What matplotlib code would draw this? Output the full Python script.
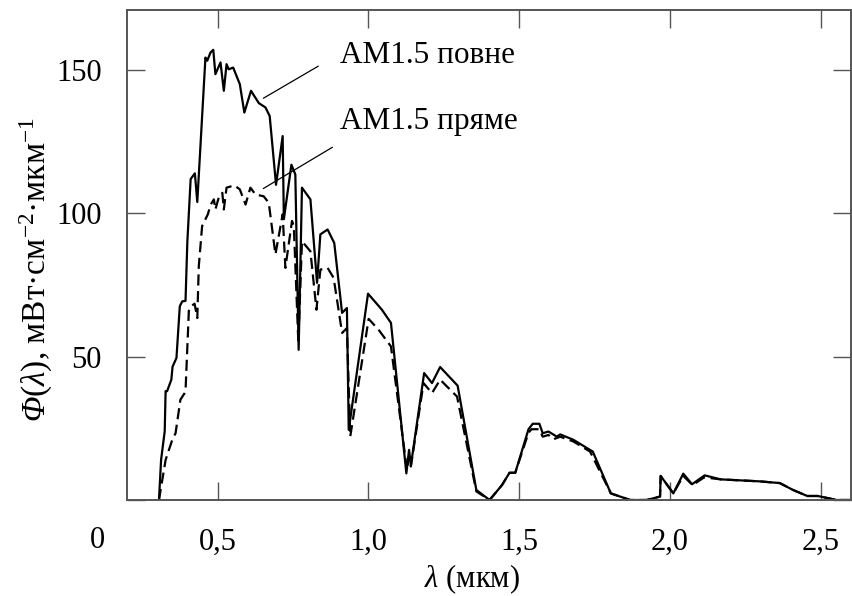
import matplotlib
matplotlib.use("Agg")
import matplotlib.pyplot as plt

plt.rcParams['font.family'] = ['Liberation Serif', 'DejaVu Serif']
plt.rcParams['mathtext.fontset'] = 'custom'
plt.rcParams['mathtext.rm'] = 'Liberation Serif'
plt.rcParams['mathtext.it'] = 'Liberation Serif:italic'
# italic capital Greek is forced upright in \mathit, so borrow \mathsf for it
plt.rcParams['mathtext.sf'] = 'Liberation Serif:italic'

# AM1.5 global (total) spectrum, mW/cm^2/um
wl_total = [0.306, 0.313, 0.325, 0.328, 0.333, 0.347, 0.351, 0.364, 0.375, 0.383,
            0.394, 0.400, 0.411, 0.425, 0.433, 0.460, 0.466, 0.477, 0.486, 0.493,
            0.510, 0.521, 0.530, 0.537, 0.552, 0.574, 0.589, 0.611, 0.637, 0.659,
            0.673, 0.694, 0.716, 0.720, 0.745, 0.758, 0.769, 0.780, 0.808, 0.830,
            0.841, 0.865, 0.887, 0.913, 0.929, 0.935, 0.999, 1.045, 1.075, 1.126,
            1.135, 1.141, 1.185, 1.211, 1.238, 1.296, 1.358, 1.402, 1.443, 1.468,
            1.487, 1.531, 1.545, 1.567, 1.578, 1.597, 1.625, 1.636, 1.680, 1.744,
            1.804, 1.868, 1.923, 1.967, 1.969, 2.011, 2.044, 2.073, 2.115, 2.168,
            2.298, 2.364, 2.408, 2.455, 2.490, 2.552, 2.600]
phi_total = [0, 14, 24, 38, 38, 42, 46.5, 49.6, 67.6, 69.3,
             69.5, 90, 112, 114, 104, 154.4, 153.3, 156.2, 157.1, 148.6,
             152.7, 142.8, 152.1, 150.3, 150.9, 145.1, 135.2, 142.8, 138.5, 137,
             134, 110, 127, 98, 117, 113.6, 52.4, 109, 104.9, 75.8,
             92.7, 94.4, 89.7, 65.3, 67, 24.5, 72, 66.4, 61.8, 9.3,
             17.5, 12, 44.3, 40.8, 46.4, 39.9, 3.5, 0, 5.2, 9.5,
             9.5, 24.7, 26.6, 26.6, 23.3, 23.9, 22.1, 22.9, 21, 16.9,
             2.3, 0, 0, 1.2, 8.4, 2.3, 9.2, 5.5, 8.6, 7.2,
             6.5, 5.9, 3.5, 1.4, 1.4, 0, 0]

# AM1.5 direct spectrum
wl_direct = [0.306, 0.328, 0.350, 0.361, 0.377, 0.391, 0.394, 0.405, 0.411, 0.424,
             0.433, 0.438, 0.449, 0.468, 0.477, 0.488, 0.493, 0.504, 0.516, 0.521,
             0.530, 0.556, 0.574, 0.593, 0.609, 0.626, 0.653, 0.670, 0.692, 0.716,
             0.725, 0.747, 0.753, 0.768, 0.780, 0.808, 0.828, 0.841, 0.865, 0.885,
             0.913, 0.929, 0.940, 1.001, 1.034, 1.075, 1.128, 1.135, 1.141, 1.183,
             1.211, 1.238, 1.294, 1.358, 1.402, 1.443, 1.468, 1.487, 1.531, 1.541,
             1.567, 1.578, 1.597, 1.614, 1.636, 1.680, 1.735, 1.804, 1.868, 1.923,
             1.967, 1.969, 2.011, 2.044, 2.075, 2.113, 2.168, 2.298, 2.364, 2.408,
             2.455, 2.490, 2.552, 2.600]
phi_direct = [0, 14, 21, 23.3, 35, 37.3, 38, 66, 67.5, 68.5,
              63.5, 81.6, 95.6, 99.7, 103, 104.9, 101.4, 105.5, 107.2, 101.4,
              109, 109.8, 108.4, 103.1, 109, 106.6, 106, 103.7, 85.7, 99.7,
              81, 97.4, 95.6, 55, 90.3, 86.8, 66.4, 80.4, 81, 77.5,
              58.3, 60, 22.1, 63.2, 59.4, 53.6, 10.5, 15, 11.7, 40.8,
              37.3, 42, 36.1, 3, 0, 5.2, 9.5, 9.5, 23.5, 24.7,
              24.7, 22.1, 22.7, 21.2, 22.1, 20.4, 16.9, 2.3, 0, 0,
              1.2, 8.4, 2.3, 8.4, 5.2, 7.9, 7.2, 6.5, 5.9, 3.5,
              1.4, 1.4, 0, 0]

x_ticks = [0.5, 1.0, 1.5, 2.0, 2.5]
x_tick_labels = ['0,5', '1,0', '1,5', '2,0', '2,5']
y_ticks = [0, 50, 100, 150]
y_tick_labels = ['', '50', '100', '150']

fig = plt.figure(figsize=(8.53, 5.96), dpi=100)
ax = fig.add_axes([127 / 853, 1 - 500 / 596, 724 / 853, 490 / 596])

ax.plot(wl_total, phi_total, color='black', linewidth=1.6)
ax.plot(wl_direct, phi_direct, color='black', linewidth=1.6, linestyle=(0, (5, 2.5)))

ax.set_xlim(0.2, 2.6)
ax.set_ylim(0, 171)
ax.set_xticks(x_ticks)
ax.set_xticklabels(x_tick_labels)
ax.set_yticks(y_ticks)
ax.set_yticklabels(y_tick_labels)

ax.tick_params(direction='in', length=13, width=1, color='#555555',
               top=True, right=True, labelsize=22)
ax.tick_params(axis='y', pad=18)
ax.tick_params(axis='x', pad=20)
for sp in ax.spines.values():
    sp.set_color('#555555')
    sp.set_linewidth(1.4)

fig.text(97 / 853, 1 - 541 / 596, '0', fontsize=22, ha='center', va='center')

ax.set_xlabel(r'$\mathit{λ}$ (мкм)', fontsize=22)
ax.xaxis.set_label_coords(0.477, -0.128)
ax.set_ylabel(r'$\mathsf{Φ}$($\mathit{λ}$), мВт·см$^{-2}$·мкм$^{-1}$', fontsize=24)
ax.yaxis.set_label_coords(-0.10, 0.47)

# curve labels with leader lines
ax.text(0.907, 152.4, 'AM1.5 повне', fontsize=22.5, va='baseline', ha='left')
ax.annotate('', xy=(0.652, 140.2), xytext=(0.834, 151.4),
            arrowprops=dict(arrowstyle='-', color='black', lw=0.9,
                            shrinkA=0, shrinkB=0))
ax.text(0.907, 129.4, 'AM1.5 пряме', fontsize=22.5, va='baseline', ha='left')
ax.annotate('', xy=(0.652, 108.7), xytext=(0.881, 123.1),
            arrowprops=dict(arrowstyle='-', color='black', lw=0.9,
                            shrinkA=0, shrinkB=0))

fig.savefig('out.png', dpi=100)
